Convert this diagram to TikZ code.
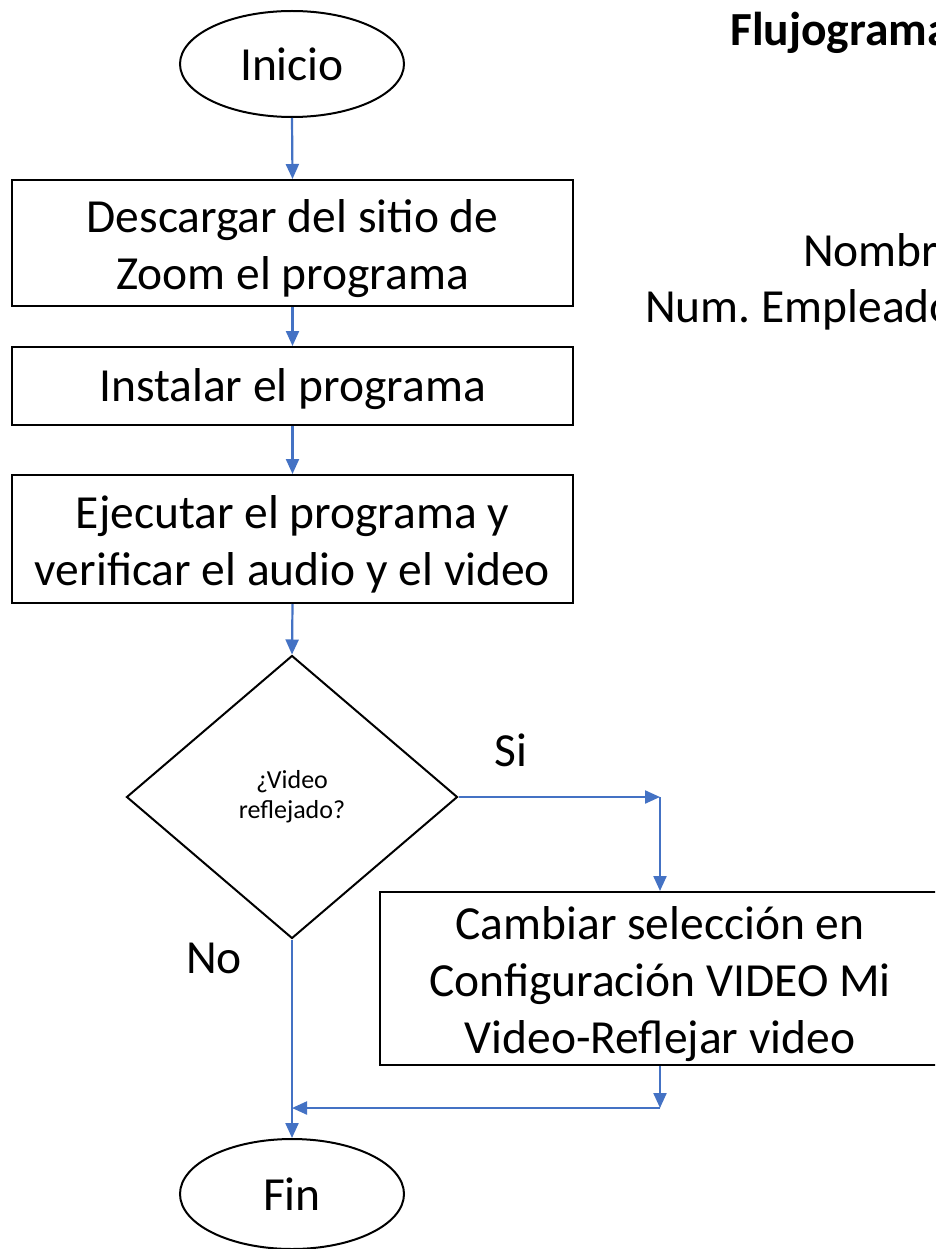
\documentclass[tikz,border=0pt]{standalone}
\usepackage{fontspec}
\setmainfont{Carlito}
\usetikzlibrary{shapes.geometric,arrows.meta}
\definecolor{conn}{HTML}{4472C4}
\frenchspacing
\newcommand\firstlift{\rule{0pt}{44pt}}
\tikzset{
  shapeline/.style={draw=black,line width=2pt,inner sep=0pt,align=center,font=\fontsize{47.5}{57}\selectfont},
  procbox/.style={shapeline,rectangle,minimum width=561pt},
  termin/.style={shapeline,ellipse,minimum width=224pt,minimum height=106pt},
  decis/.style={shapeline,diamond,minimum width=331pt,minimum height=283pt,font=\fontsize{26}{30}\selectfont},
  conarrow/.style={draw=conn,line width=2.2pt,-{Triangle[length=15pt,width=13pt]}},
  lbl/.style={inner sep=0pt,font=\fontsize{47.5}{57}\selectfont},
  hdr/.style={inner sep=0pt,anchor=west,font=\fontsize{47.5}{57}\selectfont}
}
\begin{document}
\begin{tikzpicture}[x=1pt,y=-1pt]
\useasboundingbox (0,0) rectangle (935,1249);
\clip (0,0) rectangle (935,1249);
\fill[white] (0,0) rectangle (935,1249);
\node[termin] (inicio) at (292,64) {Inicio};
\node[procbox,minimum height=126pt] (b1) at (292.5,243) {\firstlift Descargar del sitio de\\Zoom el programa};
\node[procbox,minimum height=78pt] (b2) at (292.5,386) {\rule{0pt}{40pt}Instalar el programa};
\node[procbox,minimum height=128pt] (b3) at (292.5,539) {\firstlift Ejecutar el programa y\\verificar el audio y el video};
\node[decis] (d) at (292,797) {¿Video\\reflejado?};
\node[procbox,minimum width=560pt,minimum height=173pt] (b4) at (660,978.5) {\firstlift Cambiar selección en\\Configuración VIDEO Mi\\Video-Reflejar video};
\node[termin,minimum height=110pt] (fin) at (292,1194) {Fin};
\coordinate (c1) at (660,797);
\coordinate (c2) at (660,1108);
\coordinate (c3) at (292,1108);
\node[lbl] (si) at (511,750) {Si};
\node[lbl] (no) at (214,958) {No};
\node[hdr,font=\bfseries\fontsize{47.5}{57}\selectfont] (t1) at (730,33) {Flujograma};
\node[hdr] (t2) at (803,250) {Nombre};
\node[hdr] (t3) at (645,310) {Num. Empleado};
\draw[conarrow] (inicio.south) -- (b1.north);
\draw[conarrow] (b1.south) -- (b2.north);
\draw[conarrow] (b2.south) -- (b3.north);
\draw[conarrow] (b3.south) -- (d.north);
\draw[conarrow] (d.east) -- (c1);
\draw[conarrow] (c1) -- (b4.north);
\draw[conarrow] (d.south) -- (fin.north);
\draw[conarrow] (b4.south) -- (c2);
\draw[conarrow] (c2) -- (c3);
\end{tikzpicture}
\end{document}
